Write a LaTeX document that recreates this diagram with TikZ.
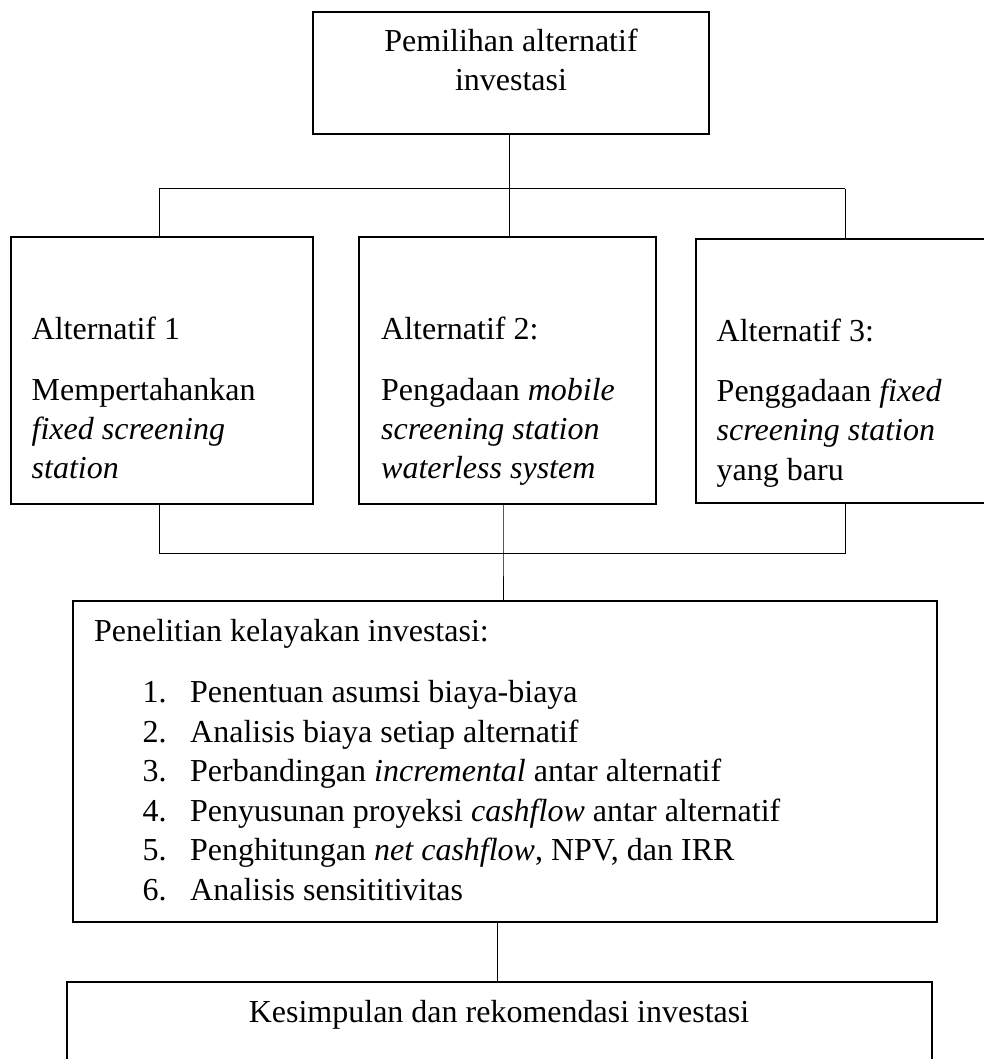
\documentclass[tikz,border=0pt]{standalone}
\usepackage{fontspec}
\setmainfont{Liberation Serif}
\tikzset{
  boxnode/.style={draw=black, line width=1.6pt, rectangle, inner sep=0pt},
  txt/.style={anchor=base west, inner sep=0pt, font=\fontsize{32}{39.5}\selectfont},
  ctxt/.style={anchor=base, inner sep=0pt, font=\fontsize{32}{39.5}\selectfont},
  conn/.style={draw=black, line width=1pt},
}
\begin{document}
\begin{tikzpicture}[x=1pt,y=-1pt]
\useasboundingbox (0,0) rectangle (984,1059);
\clip (0,0) rectangle (984,1059);
% boxes
\node[boxnode, minimum width=396pt, minimum height=122pt] (top) at (511,73) {};
\node[boxnode, minimum width=302pt, minimum height=267pt] (alt1) at (162,370.5) {};
\node[boxnode, minimum width=297pt, minimum height=267pt] (alt2) at (507.5,370.5) {};
\node[boxnode, minimum width=304pt, minimum height=264pt] (alt3) at (848,371) {};
\node[boxnode, minimum width=864pt, minimum height=321pt] (study) at (505,761.5) {};
\node[boxnode, minimum width=865pt, minimum height=120pt] (concl) at (499.5,1042) {};
% top text
\node[ctxt] (t1) at (511,52) {Pemilihan alternatif};
\node[ctxt] (t2) at (511,91) {investasi};
% alternative 1
\node[txt] (a1a) at (31.5,339) {Alternatif 1};
\node[txt] (a1b) at (31.5,400) {Mempertahankan};
\node[txt] (a1c) at (31.5,439) {\itshape fixed screening};
\node[txt] (a1d) at (31.5,478) {\itshape station};
% alternative 2
\node[txt] (a2a) at (381,339) {Alternatif 2:};
\node[txt] (a2b) at (381,400) {Pengadaan \textit{mobile}};
\node[txt] (a2c) at (381,439) {\itshape screening station};
\node[txt] (a2d) at (381,478) {\itshape waterless system};
% alternative 3
\node[txt] (a3a) at (716.5,341.5) {Alternatif 3:};
\node[txt] (a3b) at (716.5,401.5) {Penggadaan \textit{fixed}};
\node[txt] (a3c) at (716.5,440.5) {\itshape screening station};
\node[txt] (a3d) at (716.5,480) {yang baru};
% study
\node[txt] (s0) at (94,641.5) {Penelitian kelayakan investasi:};
\foreach \n/\t [count=\i from 0] in {1./Penentuan asumsi biaya-biaya,
  2./Analisis biaya setiap alternatif,
  3./Perbandingan \textit{incremental} antar alternatif,
  4./Penyusunan proyeksi \textit{cashflow} antar alternatif,
  5./Penghitungan \textit{net cashflow}\textup{,} NPV\textup{,} dan IRR,
  6./Analisis sensititivitas}{
  \node[txt] (n\i) at (142.5,702.5+39.5*\i) {\n};
  \node[txt] (s\i) at (190,702.5+39.5*\i) {\t};
}
% conclusion
\node[ctxt] (c1) at (499,1022) {Kesimpulan dan rekomendasi investasi};
% connectors
\coordinate (j1) at (509,189);
\coordinate (jl) at (159,189);
\coordinate (jr) at (845,189);
\draw[conn] (j1 |- top.south) -- (j1);
\draw[conn] (jl) -- (jr);
\draw[conn] (jl) -- (jl |- alt1.north);
\draw[conn] (j1) -- (j1 |- alt2.north);
\draw[conn] (jr) -- (jr |- alt3.north);
\coordinate (k1) at (503,553);
\coordinate (kl) at (159,553);
\coordinate (kr) at (845,553);
\draw[conn] (kl |- alt1.south) -- (kl) -- (kr) -- (kr |- alt3.south);
\draw[conn] (k1 |- alt2.south) -- (k1) -- (k1 |- study.north);
\coordinate (m1) at (497,922);
\draw[conn] (m1 |- study.south) -- (m1 |- concl.north);
\end{tikzpicture}
\end{document}
